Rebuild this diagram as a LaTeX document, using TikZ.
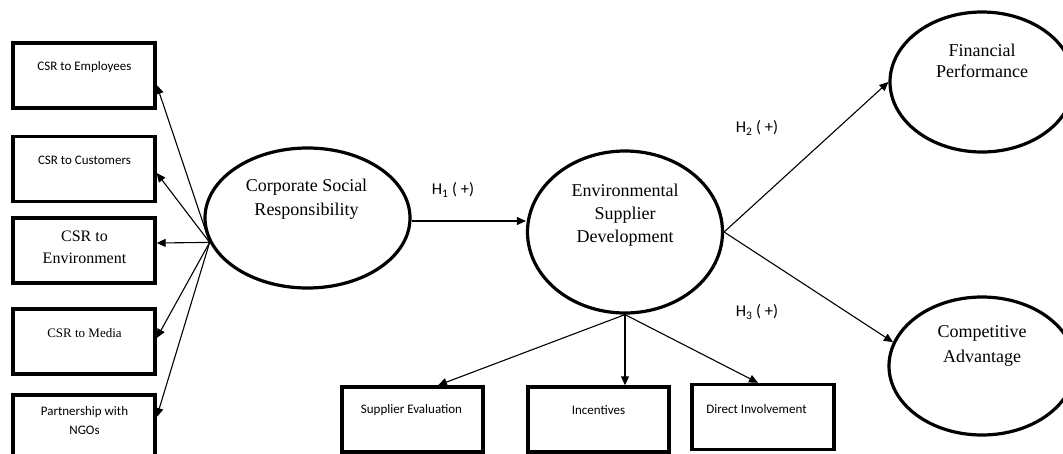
\documentclass[tikz,border=0pt]{standalone}
\usepackage{fontspec}
\setmainfont{Liberation Serif}
\newfontfamily\calfont{Carlito}
\usetikzlibrary{shapes.geometric,arrows.meta}
\begin{document}
\begin{tikzpicture}[x=1pt,y=-1pt,
  box/.style={draw,line width=3.4pt,minimum width=142pt,minimum height=65pt,inner sep=0pt},
  oval/.style={draw,ellipse,line width=3.2pt,inner sep=0pt},
  arr/.style={line width=1.1pt,-{Triangle[length=9pt,width=8pt]}},
  stxt/.style={font=\calfont\fontsize{13}{19}\selectfont,align=center,inner sep=0pt},
  rtxt/.style={font=\fontsize{18}{23}\selectfont,align=center,inner sep=0pt},
  hyp/.style={font=\calfont\fontsize{16.5}{19}\selectfont,inner sep=0pt}]
\fill[white] (0,0) rectangle (1063,453);
\useasboundingbox (0,0) rectangle (1063,453);
% left boxes
\node[box] (b1) at (84,75.5) {};
\node[box] (b2) at (84,169) {};
\node[box] (b3) at (84,250.5) {};
\node[box] (b4) at (84,341.5) {};
\node[box] (b5) at (84,427.5) {};
\node[stxt] (t1) at (84.5,67) {CSR to Employees};
\node[stxt] (t2) at (84.5,160) {CSR to Customers};
\node[rtxt,font=\fontsize{16}{22}\selectfont] (t3) at (84.5,247) {CSR to\\Environment};
\node[inner sep=0pt,font=\fontsize{13}{16}\selectfont] (t4) at (84.5,333) {CSR to Media};
\node[stxt] (t5) at (84.5,420.5) {Partnership with\\NGOs};
% ellipses
\node[oval,minimum width=205pt,minimum height=140pt] (csr) at (307.5,218) {};
\node[rtxt,font=\fontsize{18}{24}\selectfont] (csrt) at (306.5,199) {Corporate Social\\Responsibility};
\node[oval,minimum width=195pt,minimum height=162pt] (esd) at (625,232) {};
\node[rtxt] (esdt) at (625,215) {Environmental\\Supplier\\Development};
\node[oval,minimum width=184pt,minimum height=140pt] (fp) at (982,82) {};
\node[rtxt,font=\fontsize{18}{21}\selectfont] (fpt) at (982,60.5) {Financial\\Performance};
\node[oval,minimum width=186pt,minimum height=138pt] (ca) at (982,366) {};
\node[rtxt,font=\fontsize{18}{25}\selectfont] (cat) at (982,345.5) {Competitive\\Advantage};
% bottom boxes
\node[box,minimum width=141pt] (se) at (412.5,419.5) {};
\node[box,minimum width=141pt] (inc) at (598.5,419.5) {};
\node[box] (di) at (763,417) {};
\node[stxt] (set) at (411.5,410) {Supplier Evaluation};
\node[stxt] (inct) at (598.5,410) {Incentives};
\node[stxt] (dit) at (756.5,409) {Direct Involvement};
% connectors
\draw[arr] (csr.194) -- ([yshift=-9.5pt]b1.east);
\draw[arr] (csr.194) -- ([yshift=-4pt]b2.east);
\draw[arr] (csr.194) -- ([yshift=7.5pt]b3.east);
\draw[arr] (csr.194) -- ([yshift=3.5pt]b4.east);
\draw[arr] (csr.194) -- ([yshift=10.5pt]b5.east);
\draw[arr] ([yshift=-3pt]csr.east) -- ([yshift=-3pt]csr.east -| esd.west);
\draw[arr] (esd.south) -- ([xshift=25.5pt]se.north);
\draw[arr] (esd.south) -- (esd.south |- inc.north);
\draw[arr] (esd.south) -- ([xshift=-5pt]di.north);
\draw[arr] (esd.east) -- (fp.west);
\draw[arr] (esd.east) -- (ca.165);
% hypothesis labels
\node[hyp] (h1) at (453,190) {H\textsubscript{1} ( +)};
\node[hyp] (h2) at (757,128) {H\textsubscript{2} ( +)};
\node[hyp] (h3) at (757,312) {H\textsubscript{3} ( +)};
\end{tikzpicture}
\end{document}
